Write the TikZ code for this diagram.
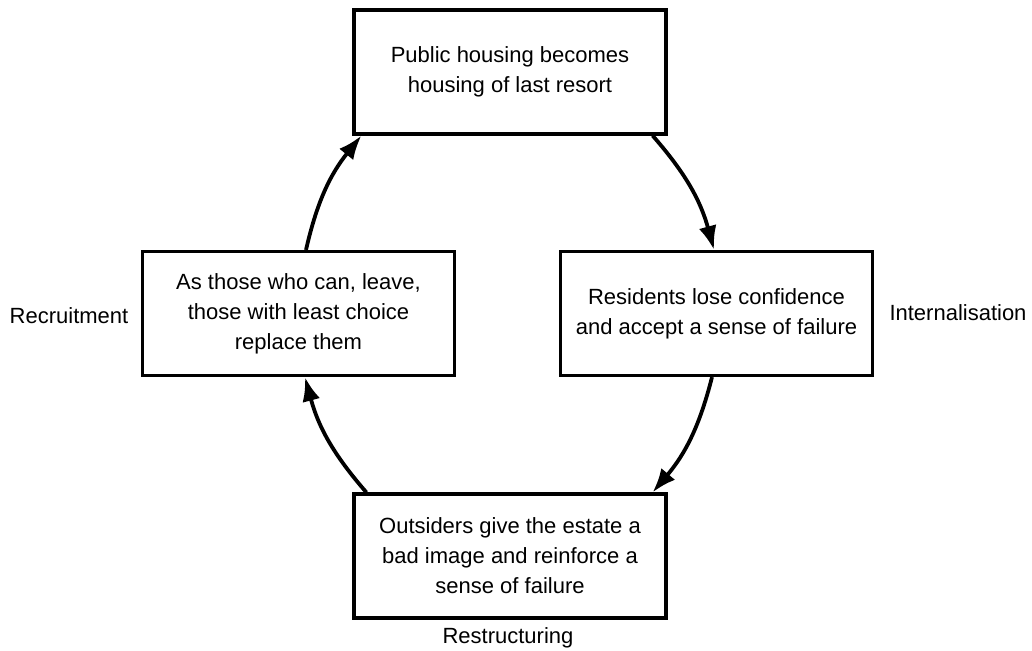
\documentclass[tikz,border=0pt]{standalone}
\usepackage{fontspec}
\setmainfont{Liberation Sans}
\usetikzlibrary{arrows.meta}

\begin{document}
\begin{tikzpicture}[x=0.5pt, y=-0.5pt,
    stage/.style={draw=black, line width=1.6pt, align=center, minimum width=156pt, minimum height=62pt, inner sep=0pt, font=\fontsize{11}{15}\selectfont},
    phase/.style={font=\fontsize{11}{15}\selectfont},
    loopedge/.style={-{Latex[length=12pt,width=9pt]}, line width=1.9pt, bend left=13}]

            \useasboundingbox (0,0) rectangle (1032,650);

            \node[stage] (resort) at (510,72) {Public housing becomes\\housing of last resort};
            \node[stage] (failure) at (716.5,313.5) {Residents lose confidence\\and accept a sense of failure};
            \node[stage] (image) at (510,556) {Outsiders give the estate a\\bad image and reinforce a\\sense of failure};
            \node[stage] (choice) at (298.5,313.5) {As those who can, leave,\\those with least choice\\replace them};

            \node[phase] (recruit) at (69,316) {Recruitment};
            \node[phase] (intern) at (958,313) {Internalisation};
            \node[phase] (restruct) at (508,638) {Restructuring};

            \draw[loopedge] ([xshift=-7.5pt]resort.south east) to ([xshift=-1.25pt]failure.north);
            \draw[loopedge] ([xshift=-2.25pt]failure.south) to ([xshift=-7.5pt]image.north east);
            \draw[loopedge] ([xshift=7pt]image.north west) to ([xshift=3.25pt]choice.south);
            \draw[loopedge] ([xshift=3.75pt]choice.north) to ([xshift=4.5pt]resort.south west);

        \end{tikzpicture}
\end{document}
